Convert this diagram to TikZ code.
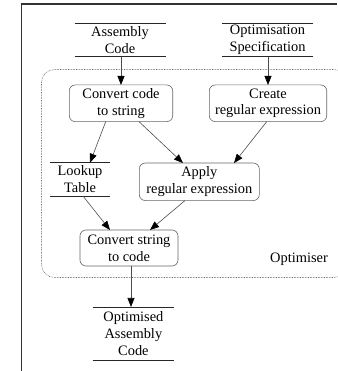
\documentclass[tikz,border=0pt]{standalone}
\usepackage{fontspec}
\setmainfont{Liberation Serif}
\usetikzlibrary{arrows.meta}
\begin{document}
\begin{tikzpicture}[x=1pt,y=-1pt,
  every node/.style={font=\fontsize{14.4}{16.7}\selectfont, inner sep=0pt, outer sep=0pt},
  proc/.style={draw=black!60, line width=0.6pt, rounded corners=6pt, align=center},
  store/.style={align=center},
  storeline/.style={draw=black!85, line width=0.7pt},
  edge/.style={draw=black!70, line width=0.6pt, -{Triangle[length=9pt,width=7pt,black]}},
  frame/.style={draw=black!80, line width=1.1pt},
  region/.style={draw=black!55, line width=0.6pt, dash pattern=on 0.7pt off 0.9pt, rounded corners=13pt}
]
\useasboundingbox (0,0) rectangle (337,371);
\draw[frame] (337,4) -- (21.5,4) -- (21.5,371);
\draw[region] (41.5,69.5) rectangle (347,277.5);

\node[store, minimum width=91pt, minimum height=33.4pt] (asm) at (120,40) {Assembly\\Code};
\node[store, minimum width=91pt, minimum height=33.4pt] (opt) at (267.5,40) {Optimisation\\Specification};
\node[proc, minimum width=103.4pt, minimum height=36.7pt] (conv) at (121,103.3) {Convert code\\to string};
\node[proc, minimum width=117.4pt, minimum height=36.7pt] (create) at (268,103.3) {Create\\regular expression};
\node[store, minimum width=60pt, minimum height=33.3pt] (lookup) at (80,179.4) {Lookup\\Table};
\node[proc, minimum width=120pt, minimum height=37.5pt] (apply) at (199.3,181.8) {Apply\\regular expression};
\node[proc, minimum width=98pt, minimum height=36pt] (cstr) at (129,248) {Convert string\\to code};
\node[store, minimum width=81.8pt, minimum height=53.5pt] (out) at (133.4,333.7) {Optimised\\Assembly\\Code};
\node (lbl) at (299,259) {Optimiser};

\foreach \n in {asm,opt,lookup,out}{
  \draw[storeline] (\n.north west) -- (\n.north east);
  \draw[storeline] (\n.south west) -- (\n.south east);
}

\draw[edge] ([xshift=1pt]asm.south) -- (conv.north);
\draw[edge] (create.north |- opt.south) -- (create.north);
\draw[edge] ([xshift=-15.3pt]conv.south) -- ([xshift=10pt]lookup.north);
\draw[edge] ([xshift=18pt]conv.south) -- ([xshift=-16.3pt]apply.north);
\draw[edge] ([xshift=-1.3pt]create.south) -- ([xshift=34.7pt]apply.north);
\draw[edge] ([xshift=3pt]lookup.south) -- ([xshift=-19pt]cstr.north);
\draw[edge] ([xshift=-14.3pt]apply.south) -- ([xshift=21pt]cstr.north);
\draw[edge] ([xshift=2pt]cstr.south) -- ([xshift=2pt]cstr.south |- out.north);
\end{tikzpicture}
\end{document}
